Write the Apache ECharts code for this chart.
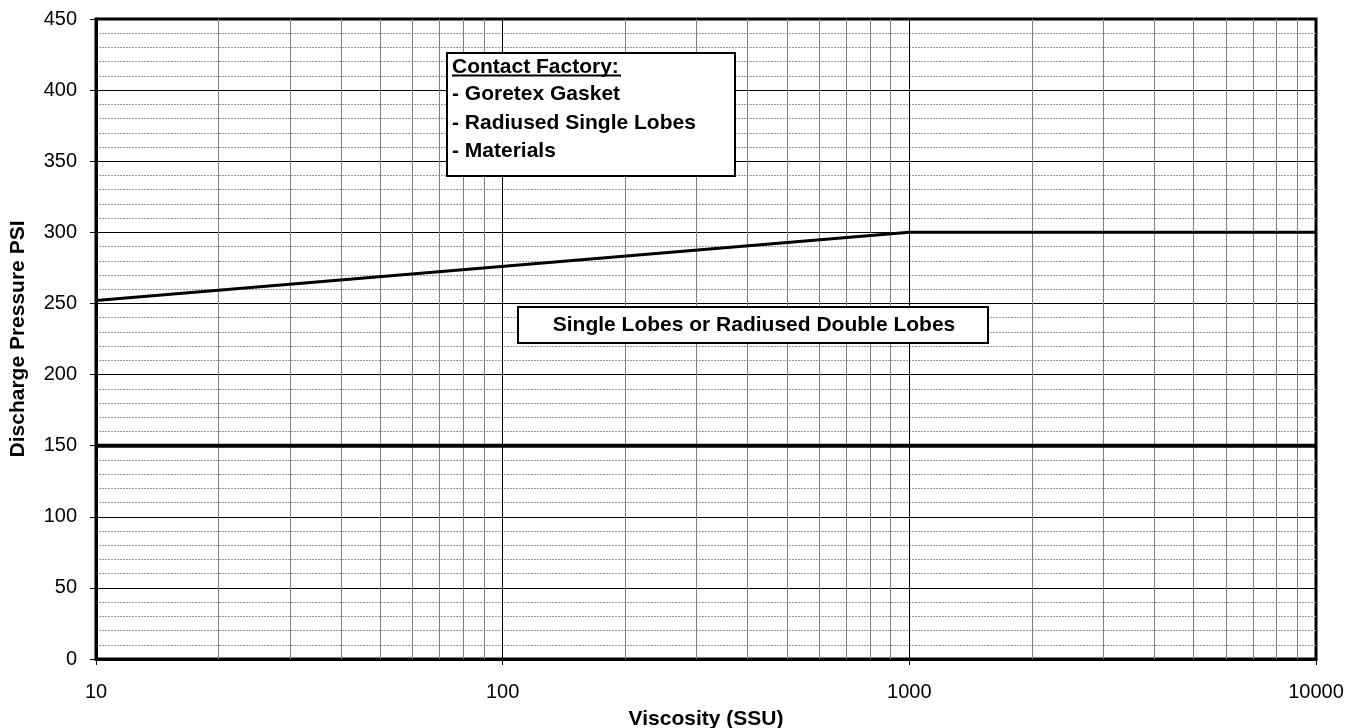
<!DOCTYPE html>
<html>
<head>
<meta charset="utf-8">
<script src="https://cdn.jsdelivr.net/npm/echarts@6/dist/echarts.min.js"></script>
<style>html,body{margin:0;padding:0;background:#fff}#c{width:1359px;height:728px}</style>
</head>
<body>
<div id="c"></div>
<script>
// Data
const limitLine = [[10, 252], [1000, 300], [10000, 300]];
const lowerLine = [[10, 150], [10000, 150]];
const minorX = [20,30,40,50,60,70,80,90,200,300,400,500,600,700,800,900,2000,3000,4000,5000,6000,7000,8000,9000];
const boxTitle = 'Contact Factory:';
const boxItems = ['- Goretex Gasket', '- Radiused Single Lobes', '- Materials'];
const regionLabel = 'Single Lobes or Radiused Double Lobes';

const FONT = '"Liberation Sans", Arial, sans-serif';
const chart = echarts.init(document.getElementById('c'), null, {renderer: 'canvas'});
chart.setOption({
  animation: false,
  backgroundColor: '#fff',
  grid: {left: 96, right: 43, top: 19, bottom: 69, show: true, borderColor: '#000', borderWidth: 3, backgroundColor: 'transparent', containLabel: false, outerBoundsMode: 'none'},
  xAxis: {
    type: 'log', logBase: 10, min: 10, max: 10000,
    name: 'Viscosity (SSU)', nameLocation: 'middle', nameGap: 50,
    nameTextStyle: {fontFamily: FONT, fontSize: 21, fontWeight: 'bold', color: '#000'},
    axisLine: {show: true, lineStyle: {color: '#000', width: 3}},
    axisTick: {show: true, length: 6, lineStyle: {color: '#000', width: 1}},
    axisLabel: {fontFamily: FONT, fontSize: 20, color: '#000', margin: 23, formatter: v => String(v)},
    splitLine: {show: true, lineStyle: {color: '#000', width: 1}}
  },
  yAxis: {
    type: 'value', min: 0, max: 450, interval: 50,
    name: 'Discharge Pressure PSI', nameLocation: 'middle', nameGap: 67,
    nameTextStyle: {fontFamily: FONT, fontSize: 21, fontWeight: 'bold', color: '#000'},
    axisLine: {show: true, lineStyle: {color: '#000', width: 3}},
    axisTick: {show: true, length: 6, lineStyle: {color: '#000', width: 1}},
    axisLabel: {fontFamily: FONT, fontSize: 20, color: '#000', margin: 19},
    splitLine: {show: true, lineStyle: {color: '#000', width: 1}},
    minorTick: {show: false, splitNumber: 5},
    minorSplitLine: {show: true, lineStyle: {color: '#9a9a9a', width: 1, type: [2, 1]}}
  },
  series: [
    {
      type: 'line', data: limitLine, symbol: 'none', silent: true,
      lineStyle: {color: '#000', width: 3}, z: 5,
      markLine: {
        silent: true, symbol: 'none', label: {show: false},
        lineStyle: {color: '#808080', width: 1, type: 'solid'},
        data: minorX.map(v => ({xAxis: v})),
        z: 1
      }
    },
    {
      type: 'line', data: lowerLine, symbol: 'none', silent: true,
      lineStyle: {color: '#000', width: 4}, z: 5
    }
  ],
  graphic: [
    {type: 'rect', shape: {x: 447, y: 53, width: 288, height: 123}, style: {fill: '#fff', stroke: '#000', lineWidth: 2}, z: 100},
    {type: 'text', x: 452, y: 67, style: {text: boxTitle, font: 'bold 21px ' + FONT, fill: '#000', verticalAlign: 'middle'}, z: 101},
    {type: 'line', shape: {x1: 452, y1: 75.5, x2: 621, y2: 75.5}, style: {stroke: '#000', lineWidth: 2}, z: 101},
    {type: 'text', x: 452, y: 94, style: {text: boxItems[0], font: 'bold 21px ' + FONT, fill: '#000', verticalAlign: 'middle'}, z: 101},
    {type: 'text', x: 452, y: 123, style: {text: boxItems[1], font: 'bold 21px ' + FONT, fill: '#000', verticalAlign: 'middle'}, z: 101},
    {type: 'text', x: 452, y: 151, style: {text: boxItems[2], font: 'bold 21px ' + FONT, fill: '#000', verticalAlign: 'middle'}, z: 101},
    {type: 'rect', shape: {x: 518, y: 307, width: 470, height: 36}, style: {fill: '#fff', stroke: '#000', lineWidth: 2}, z: 100},
    {type: 'text', x: 754, y: 325, style: {text: regionLabel, font: 'bold 21px ' + FONT, fill: '#000', align: 'center', verticalAlign: 'middle'}, z: 101}
  ]
});
</script>
</body>
</html>
